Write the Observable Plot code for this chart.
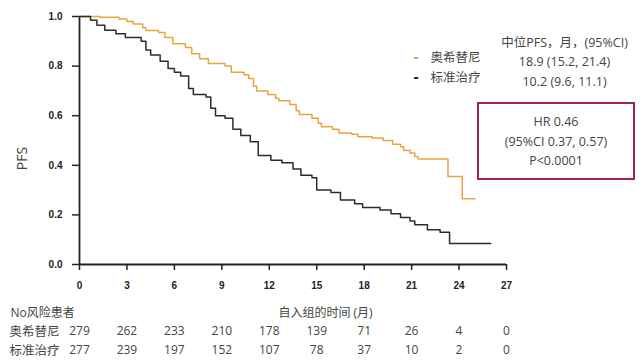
<!DOCTYPE html>
<html>
<head>
<meta charset="utf-8">
<script src="https://cdn.jsdelivr.net/npm/d3@7"></script>
<script src="https://cdn.jsdelivr.net/npm/@observablehq/plot@0.6"></script>
<style>
  html, body { margin: 0; padding: 0; background: #fff; }
  #wrap { position: relative; width: 640px; height: 362px; overflow: hidden; }
  #hrbox {
    position: absolute; left: 477px; top: 102px; width: 154px; height: 66px;
    border: 2px solid #a3234f; font-family: "Open Sans", "Noto Sans", sans-serif;
    font-size: 12.5px; color: #444; text-align: center; line-height: 19.5px;
    padding-top: 8px; box-sizing: content-box;
  }
  #hrbox div { height: 19.5px; }
</style>
</head>
<body>
<div id="wrap"></div>
<script>
// ---- Data ----
const months = [0, 3, 6, 9, 12, 15, 18, 21, 24, 27];
const riskOsi = [279, 262, 233, 210, 178, 139, 71, 26, 4, 0];
const riskStd = [277, 239, 197, 152, 107, 78, 37, 10, 2, 0];

const osiT = [0, 1.3, 2.5, 3.0, 3.4, 4.0, 4.2, 5.0, 5.4, 5.9, 6.7, 7.1, 7.6, 8.15, 9.2, 9.6, 10.4, 10.7, 11.0, 11.2, 11.9, 12.4, 12.6, 13.3, 13.7, 13.9, 14.7, 15.1, 15.3, 16.0, 16.4, 17.2, 17.6, 18.5, 19.2, 19.8, 20.3, 20.5, 20.9, 21.2, 21.4, 23.3, 24.2, 25.0];
const osiS = [1.0, 0.997, 0.99, 0.98, 0.97, 0.955, 0.944, 0.935, 0.915, 0.89, 0.875, 0.85, 0.83, 0.81, 0.80, 0.775, 0.765, 0.75, 0.72, 0.70, 0.685, 0.67, 0.66, 0.645, 0.62, 0.605, 0.59, 0.57, 0.555, 0.545, 0.53, 0.525, 0.515, 0.51, 0.50, 0.485, 0.475, 0.46, 0.45, 0.435, 0.425, 0.355, 0.265, 0.265];

const stdT = [0, 0.7, 1.1, 1.6, 2.3, 2.9, 3.9, 4.2, 4.5, 5.1, 5.6, 6.0, 6.4, 6.9, 7.2, 8.0, 8.3, 8.6, 9.2, 9.7, 10.2, 10.8, 11.3, 12.1, 12.8, 13.5, 14.0, 14.7, 15.0, 15.9, 16.5, 17.4, 17.9, 19.0, 19.7, 20.3, 20.9, 21.2, 22.0, 22.8, 23.4, 26.0];
const stdS = [1.0, 0.985, 0.965, 0.945, 0.93, 0.915, 0.90, 0.865, 0.845, 0.82, 0.79, 0.775, 0.76, 0.71, 0.685, 0.675, 0.63, 0.60, 0.59, 0.545, 0.52, 0.495, 0.44, 0.42, 0.41, 0.385, 0.36, 0.35, 0.30, 0.29, 0.26, 0.245, 0.23, 0.22, 0.205, 0.19, 0.175, 0.16, 0.14, 0.13, 0.085, 0.085];

const groups = ["奥希替尼", "标准治疗"];
const medians = ["18.9 (15.2, 21.4)", "10.2 (9.6, 11.1)"];
const medianHeader = "中位PFS，月，(95%CI)";
const hrLines = ["HR 0.46", "(95%CI 0.37, 0.57)", "P<0.0001"];
const yTicks = [0, 0.2, 0.4, 0.6, 0.8, 1.0];

const colOsi = "#eca43e";
const colStd = "#2b2b36";
const txt = "#444";
const cjk = "'Open Sans', 'Noto Sans CJK SC', sans-serif";

const osi = osiT.map((t, i) => ({t, s: osiS[i]}));
const std = stdT.map((t, i) => ({t, s: stdS[i]}));
const rOsi = months.map((m, i) => ({m, n: riskOsi[i]}));
const rStd = months.map((m, i) => ({m, n: riskStd[i]}));

const T = (s, o) => Plot.text([s], {lineAnchor: "middle", fill: txt, fontFamily: cjk, ...o});

const chart = Plot.plot({
  width: 640, height: 362,
  marginLeft: 79, marginRight: 134, marginTop: 16, marginBottom: 98,
  x: {domain: [0, 27]},
  y: {domain: [0, 1]},
  style: {fontFamily: "'Liberation Sans', 'Noto Sans CJK SC', sans-serif", background: "white", overflow: "visible"},
  marks: [
    Plot.axisX({ticks: months, tickSize: 6, tickPadding: 11, fontWeight: "bold", fontSize: 10, label: null, stroke: "#222", strokeWidth: 1.5, fill: "#222"}),
    Plot.axisY({ticks: yTicks, tickFormat: ".1f", tickSize: 7, tickPadding: 10, fontWeight: "bold", fontSize: 10, label: null, stroke: "#222", strokeWidth: 1.5, fill: "#222"}),
    Plot.ruleX([0], {stroke: "#222", strokeWidth: 1.8}),
    Plot.ruleY([0], {stroke: "#222", strokeWidth: 1.8}),
    Plot.line(osi, {x: "t", y: "s", curve: "step-after", stroke: colOsi, strokeWidth: 1.5}),
    Plot.line(std, {x: "t", y: "s", curve: "step-after", stroke: colStd, strokeWidth: 1.5}),
    // y label
    T("PFS", {frameAnchor: "left", dx: -57, dy: 18, rotate: -90, fontSize: 14, textAnchor: "middle"}),
    // legend
    T("-", {frameAnchor: "top-left", dx: 334, dy: 40, fontSize: 16, fontWeight: "bold", fill: colOsi, textAnchor: "start"}),
    T("-", {frameAnchor: "top-left", dx: 334, dy: 60, fontSize: 16, fontWeight: "bold", fill: colStd, textAnchor: "start"}),
    T(groups[0], {frameAnchor: "top-left", dx: 351, dy: 41, textAnchor: "start", fontSize: 12.5}),
    T(groups[1], {frameAnchor: "top-left", dx: 351, dy: 61, textAnchor: "start", fontSize: 12.5}),
    T(medianHeader, {frameAnchor: "top-left", dx: 485, dy: 26, fontSize: 12.5, textAnchor: "middle"}),
    T(medians[0], {frameAnchor: "top-left", dx: 485, dy: 45, fontSize: 12.5, textAnchor: "middle"}),
    T(medians[1], {frameAnchor: "top-left", dx: 485, dy: 65, fontSize: 12.5, textAnchor: "middle"}),
    // risk table
    T("No风险患者", {frameAnchor: "bottom-left", dx: -69, dy: 49, textAnchor: "start", fontSize: 12}),
    T("自入组的时间 (月)", {frameAnchor: "bottom-left", dx: 246, dy: 49, fontSize: 12, textAnchor: "middle"}),
    T(groups[0], {frameAnchor: "bottom-left", dx: -70, dy: 67, textAnchor: "start", fontSize: 12.5}),
    T(groups[1], {frameAnchor: "bottom-left", dx: -70, dy: 86, textAnchor: "start", fontSize: 12.5}),
    Plot.text(rOsi, {x: "m", text: "n", frameAnchor: "bottom", lineAnchor: "middle", dy: 67, fontSize: 12, fill: txt, fontFamily: cjk}),
    Plot.text(rStd, {x: "m", text: "n", frameAnchor: "bottom", lineAnchor: "middle", dy: 86, fontSize: 12, fill: txt, fontFamily: cjk})
  ]
});

const wrap = document.getElementById("wrap");
wrap.appendChild(chart);
const box = document.createElement("div");
box.id = "hrbox";
hrLines.forEach(l => { const d = document.createElement("div"); d.textContent = l; box.appendChild(d); });
wrap.appendChild(box);
</script>
</body>
</html>
